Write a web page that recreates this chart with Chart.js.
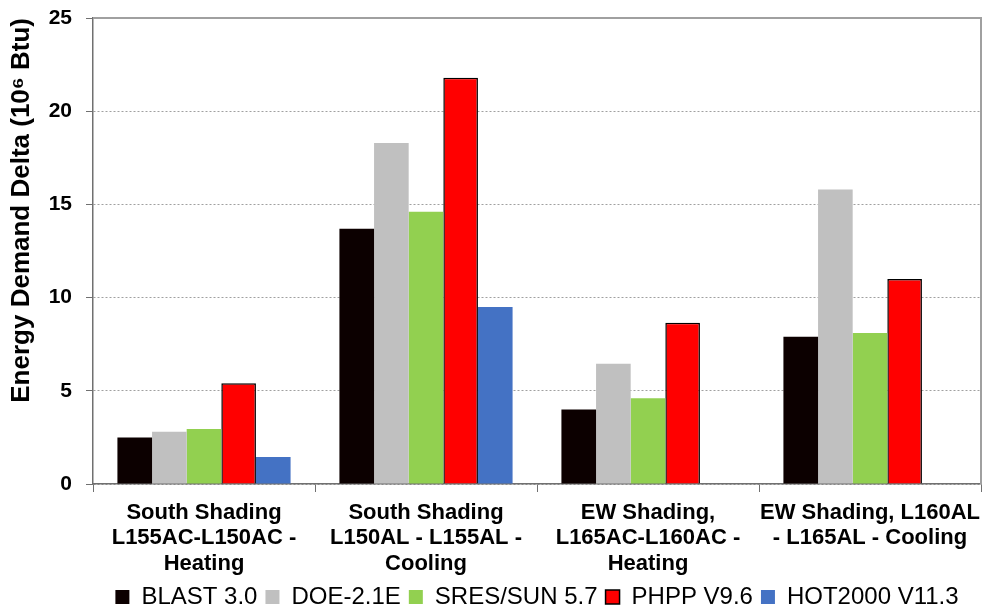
<!DOCTYPE html>
<html>
<head>
<meta charset="utf-8">
<script src="https://cdn.jsdelivr.net/npm/chart.js@4"></script>
<style>
  html, body { margin: 0; padding: 0; background: #fff; }
  #wrap { width: 982px; height: 607px; }
</style>
</head>
<body>
<div id="wrap"><canvas id="bar-chart" width="982" height="607"></canvas></div>
<script>
const categories = [
  ['South Shading', 'L155AC-L150AC -', 'Heating'],
  ['South Shading', 'L150AL - L155AL -', 'Cooling'],
  ['EW Shading,', 'L165AC-L160AC -', 'Heating'],
  ['EW Shading, L160AL', '- L165AL - Cooling']
];
const blast = [2.5, 13.7, 4.0, 7.9];
const doe = [2.8, 18.3, 6.45, 15.8];
const sres = [2.95, 14.6, 4.6, 8.1];
const phpp = [5.4, 21.8, 8.65, 11.0];
const hot2000 = [1.45, 9.5, null, null];
const yTicks = [0, 5, 10, 15, 20, 25];

const font = 'Liberation Sans, Arial, sans-serif';

// gray frame on top and right of the plot
const framePlugin = {
  id: 'frame',
  afterDraw(chart) {
    const { ctx, chartArea } = chart;
    ctx.save();
    ctx.strokeStyle = '#a0a0a0';
    ctx.lineWidth = 2;
    ctx.beginPath();
    ctx.moveTo(chartArea.left, chartArea.top);
    ctx.lineTo(chartArea.right, chartArea.top);
    ctx.lineTo(chartArea.right, chartArea.bottom);
    ctx.stroke();
    ctx.restore();
  }
};

const data = {
  labels: categories,
  datasets: [
    { label: 'BLAST 3.0', data: blast, backgroundColor: '#0c0000' },
    { label: 'DOE-2.1E', data: doe, backgroundColor: '#c0c0c0' },
    { label: 'SRES/SUN 5.7', data: sres, backgroundColor: '#92d050' },
    { label: 'PHPP V9.6', data: phpp, backgroundColor: '#ff0000', borderColor: '#000', borderWidth: 1.5 },
    { label: 'HOT2000 V11.3', data: hot2000, backgroundColor: '#4472c4' }
  ]
};

const options = {
  responsive: false,
  animation: false,
  layout: { padding: { top: 18, right: 1, left: 0, bottom: -12 } },
  datasets: { bar: { categoryPercentage: 0.78, barPercentage: 1.0 } },
  plugins: {
    legend: {
      position: 'bottom',
      fullSize: false,
      labels: {
        boxWidth: 14, boxHeight: 14, padding: 8, color: '#000',
        font: { family: font, size: 24, lineHeight: 1 }
      }
    },
    tooltip: { enabled: false }
  },
  scales: {
    x: {
      offset: true,
      afterFit: s => { s.height = 93; s.paddingLeft = 0; s.paddingRight = 0; },
      grid: { offset: true, drawOnChartArea: false, tickLength: 8, color: '#707070' },
      border: { color: '#707070', width: 1.5 },
      ticks: {
        color: '#000', maxRotation: 0, autoSkip: false, padding: 8,
        font: { family: font, size: 22, weight: 'bold', lineHeight: 1.16 }
      }
    },
    y: {
      min: 0, max: 25,
      afterBuildTicks: s => { s.ticks = yTicks.map(v => ({ value: v })); },
      afterFit: s => { s.width = 93; s.paddingTop = 0; s.paddingBottom = 0; },
      grid: { color: '#a0a0a0', tickColor: '#707070', tickLength: 7, lineWidth: 1 },
      border: { color: '#707070', width: 1.5, dash: [2, 2] },
      ticks: {
        color: '#000', padding: 14,
        font: { family: font, size: 21, weight: 'bold' }
      },
      title: {
        display: true, text: 'Energy Demand Delta (10\u2076 Btu)', color: '#000',
        align: 'end',
        padding: { top: 6, bottom: 0 },
        font: { family: font, size: 26, weight: 'bold' }
      }
    }
  }
};

new Chart(document.getElementById('bar-chart'), {
  type: 'bar',
  data: data,
  options: options,
  plugins: [framePlugin]
});
</script>
</body>
</html>
